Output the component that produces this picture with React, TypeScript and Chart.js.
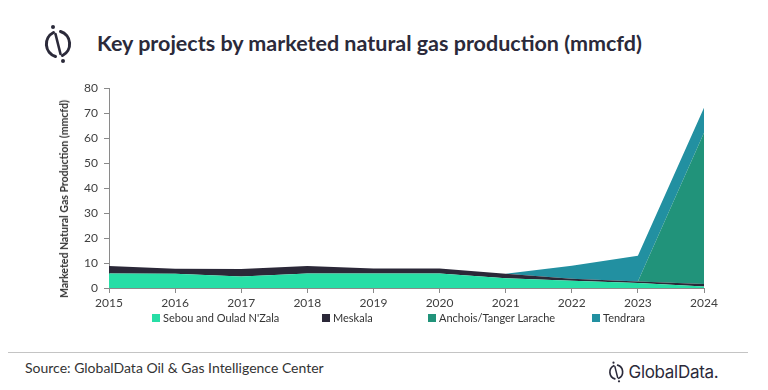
import React, { useEffect, useRef } from "react";
import { Chart, registerables } from "chart.js";

Chart.register(...registerables);

const years = ["2015", "2016", "2017", "2018", "2019", "2020", "2021", "2022", "2023", "2024"];
const sebou = [5.8, 5.7, 4.6, 5.8, 5.8, 5.8, 3.9, 2.9, 2.0, 0.6];
const meskala = [3.0, 2.0, 3.0, 3.0, 2.0, 2.0, 1.8, 0.8, 0.6, 1.0];
const anchois = [0, 0, 0, 0, 0, 0, 0, 0, 0, 60.5];
const tendrara = [0, 0, 0, 0, 0, 0, 0, 5.2, 10.3, 10.0];
const seriesNames = ["Sebou and Oulad N'Zala", "Meskala", "Anchois/Tanger Larache", "Tendrara"];
const seriesColors = ["#27dea6", "#2b2838", "#21937a", "#2290a1"];
const yMax = 80;
const yStep = 10;

const FONT = "Lato, 'Open Sans', sans-serif";
const INK = "#2b2a3a";

function Logo({ size }: { size: number }) {
  return (
    <svg width={size * 0.75} height={size} viewBox="0 0 30 40">
      <path d="M 10.5 8.5 A 13 13 0 0 0 12.5 32.5" fill="none" stroke={INK} strokeWidth="3" strokeLinecap="round" />
      <path d="M 19.5 31.5 A 13 13 0 0 0 17.5 7.5" fill="none" stroke={INK} strokeWidth="3" strokeLinecap="round" />
      <path d="M 12.5 10 L 15 20 L 17.5 30" fill="none" stroke={INK} strokeWidth="2.6" strokeLinecap="round" />
      <circle cx="10" cy="3" r="2" fill={INK} />
      <circle cx="20" cy="37" r="2" fill={INK} />
    </svg>
  );
}

export default function App() {
  const ref = useRef<HTMLCanvasElement | null>(null);

  useEffect(() => {
    if (!ref.current) return;
    const data = [sebou, meskala, anchois, tendrara];
    const chart = new Chart(ref.current, {
      type: "line",
      data: {
        labels: years,
        datasets: data.map((vals, i) => ({
          label: seriesNames[i],
          data: vals,
          backgroundColor: seriesColors[i],
          borderColor: "rgba(0,0,0,0)",
          borderWidth: 0,
          pointRadius: 0,
          tension: 0,
          fill: i === 0 ? "origin" : "-1",
        })),
      },
      options: {
        animation: false,
        responsive: true,
        maintainAspectRatio: false,
        layout: { padding: { top: 18, right: 64, left: 0, bottom: 0 } },
        plugins: { legend: { display: false }, tooltip: { enabled: false } },
        scales: {
          x: {
            offset: false,
            grid: { display: true, drawOnChartArea: false, drawTicks: true, tickLength: 5, color: "#8a8a8a" },
            border: { display: true, color: "#8a8a8a" },
            ticks: { color: "#404040", font: { family: FONT, size: 12 }, padding: 3, maxRotation: 0, autoSkip: false },
            afterFit: (s: any) => {
              s.height = 27;
            },
          },
          y: {
            stacked: true,
            min: 0,
            max: yMax,
            grid: { display: true, drawOnChartArea: false, drawTicks: true, tickLength: 5, color: "#8a8a8a" },
            border: { display: true, color: "#8a8a8a" },
            ticks: { stepSize: yStep, color: "#404040", font: { family: FONT, size: 12 }, padding: 6 },
            afterFit: (s: any) => {
              s.width = 109;
            },
          },
        },
      },
    });
    return () => chart.destroy();
  }, []);

  const legendX = [152, 322, 428, 592];

  return (
    <div style={{ position: "fixed", left: 0, top: 0, width: 768, height: 390, background: "#fff", fontFamily: FONT, overflow: "hidden" }}>
      <div style={{ position: "absolute", left: 43, top: 24 }}>
        <Logo size={40} />
      </div>
      <div style={{ position: "absolute", left: 97, top: 29, fontSize: 21.5, fontWeight: 700, color: INK, whiteSpace: "nowrap", lineHeight: "28px" }}>
        Key projects by marketed natural gas production (mmcfd)
      </div>
      <div style={{ position: "absolute", left: 0, top: 70, width: 768, height: 245 }}>
        <canvas ref={ref} />
      </div>
      <div
        style={{
          position: "absolute",
          left: 64,
          top: 199,
          transform: "translate(-50%, -50%) rotate(-90deg)",
          fontSize: 10.5,
          fontWeight: 700,
          color: "#333",
          whiteSpace: "nowrap",
        }}
      >
        Marketed Natural Gas Production (mmcfd)
      </div>
      {seriesNames.map((n, i) => (
        <div key={n} style={{ position: "absolute", left: legendX[i], top: 311, display: "flex", alignItems: "center", whiteSpace: "nowrap", fontSize: 11, color: "#333" }}>
          <span style={{ display: "inline-block", width: 8, height: 8, background: seriesColors[i], marginRight: 3 }} />
          {n}
        </div>
      ))}
      <div style={{ position: "absolute", left: 8, top: 352, width: 740, height: 1, background: "#c4c4c4" }} />
      <div style={{ position: "absolute", left: 25, top: 359, fontSize: 14, color: "#333", whiteSpace: "nowrap" }}>
        Source: GlobalData Oil &amp; Gas Intelligence Center
      </div>
      <div style={{ position: "absolute", left: 608, top: 361, display: "flex", alignItems: "center" }}>
        <Logo size={22} />
        <span style={{ marginLeft: 4, fontSize: 17, color: INK, fontFamily: "Inter, Lato, sans-serif", letterSpacing: -0.3 }}>GlobalData.</span>
      </div>
    </div>
  );
}
